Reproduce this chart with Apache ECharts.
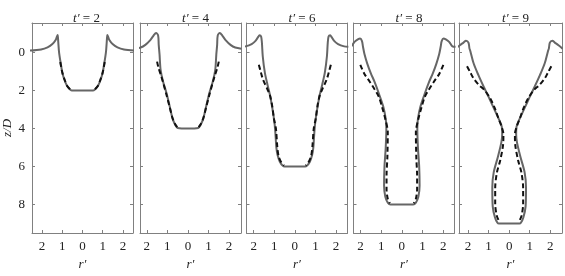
<!DOCTYPE html>
<html>
<head>
<meta charset="utf-8">
<script src="https://cdn.jsdelivr.net/npm/echarts@6/dist/echarts.min.js"></script>
<style>
html, body { margin: 0; background: #fff; }
#chart { width: 565px; height: 276px; }
</style>
</head>
<body>
<div id="chart"></div>
<script>
// dimensionless times of the five snapshots
const times = [2, 4, 6, 8, 9]
const xTicks = [-2, -1, 0, 1, 2]
const yTicks = [0, 2, 4, 6, 8]

// half profiles [r', z/D], outer edge -> axis
const solid1 = [[2.6, -0.1], [2.05, -0.16], [1.73, -0.27], [1.49, -0.44], [1.33, -0.65], [1.26, -0.85], [1.23, -0.92], [1.2, -0.55], [1.16, 0], [1.08, 0.56], [1.0, 1.05], [0.89, 1.45], [0.76, 1.77], [0.6, 1.96], [0.52, 2.0], [0, 2.0]]
const solid2 = [[2.6, -0.2], [2.3, -0.26], [2.07, -0.4], [1.83, -0.65], [1.67, -0.89], [1.55, -1.02], [1.45, -0.9], [1.42, -0.4], [1.38, 0.1], [1.33, 0.9], [1.21, 1.53], [1.03, 2.18], [0.89, 2.82], [0.75, 3.47], [0.62, 3.8], [0.5, 3.97], [0, 4.0]]
const solid3 = [[2.6, -0.3], [2.4, -0.32], [2.1, -0.44], [1.9, -0.62], [1.78, -0.82], [1.72, -0.9], [1.64, -0.84], [1.6, -0.5], [1.56, 0.2], [1.46, 1.05], [1.33, 1.7], [1.19, 2.34], [1.06, 3.15], [0.98, 3.8], [0.93, 4.5], [0.9, 5.0], [0.84, 5.4], [0.73, 5.75], [0.58, 5.97], [0.5, 6.0], [0, 6.0]]
const solid4 = [[2.6, -0.3], [2.45, -0.32], [2.29, -0.56], [2.13, -0.69], [2.02, -0.74], [1.93, -0.6], [1.88, -0.3], [1.81, 0.08], [1.67, 0.6], [1.5, 1.1], [1.32, 1.55], [1.1, 2.2], [0.9, 2.85], [0.78, 3.5], [0.75, 4.0], [0.78, 5.0], [0.84, 6.0], [0.86, 7.0], [0.8, 7.6], [0.68, 7.9], [0.55, 8.0], [0, 8.0]]
const solid5 = [[2.6, -0.2], [2.4, -0.38], [2.22, -0.52], [2.1, -0.62], [1.98, -0.52], [1.93, -0.2], [1.89, -0.08], [1.73, 0.57], [1.49, 1.21], [1.25, 1.78], [1.0, 2.34], [0.76, 2.9], [0.52, 3.47], [0.36, 3.9], [0.34, 4.3], [0.38, 4.73], [0.55, 5.5], [0.75, 6.3], [0.82, 7.1], [0.8, 8.1], [0.69, 8.68], [0.57, 8.96], [0.5, 9.0], [0, 9.0]]

const dashed1 = [[1.1, 0.5], [1.0, 1.05], [0.88, 1.45], [0.75, 1.78], [0.6, 1.96]]
const dashed2 = [[1.5, 0.48], [1.43, 0.81], [1.31, 1.21], [1.2, 1.61], [1.05, 2.2], [0.9, 2.82], [0.75, 3.45], [0.62, 3.78], [0.52, 3.93]]
const dashed3 = [[1.75, 0.65], [1.65, 1.05], [1.54, 1.45], [1.37, 1.85], [1.21, 2.26], [1.1, 2.82], [1.02, 3.47], [0.92, 4.0], [0.85, 5.0], [0.78, 5.5], [0.65, 5.8], [0.52, 5.95]]
const dashed4 = [[2.01, 0.65], [1.81, 1.13], [1.56, 1.53], [1.32, 1.94], [1.11, 2.34], [0.95, 2.9], [0.8, 3.5], [0.68, 4.2], [0.7, 5.5], [0.74, 6.5], [0.74, 7.2], [0.68, 7.7], [0.58, 7.93]]
const dashed5 = [[2.05, 0.73], [1.89, 1.05], [1.73, 1.37], [1.49, 1.69], [1.17, 2.02], [0.92, 2.42], [0.71, 2.9], [0.52, 3.47], [0.38, 3.87], [0.28, 4.3], [0.3, 4.9], [0.44, 5.7], [0.6, 6.34], [0.68, 7.15], [0.68, 7.96], [0.6, 8.6], [0.48, 8.9]]

const solids = [solid1, solid2, solid3, solid4, solid5]
const dasheds = [dashed1, dashed2, dashed3, dashed4, dashed5]

// panel layout
const lefts = [30, 140, 246.5, 353.5, 459]
const widths = [103, 101, 101, 101, 103]
const xMins = [-2.5, -2.33, -2.35, -2.34, -2.44]
const xMaxs = [2.5, 2.58, 2.56, 2.55, 2.57]

const serif = 'Times New Roman, Liberation Serif, serif'
const frame = '#808080'
const ink = '#222'

const chart = echarts.init(document.getElementById('chart'))

const grid = [], xAxis = [], yAxis = [], series = [], title = []

// left half mirrored, then the right half back out
function fullProfile (half) {
  const left = half.map(p => [-p[0], p[1]])
  const right = half.slice().reverse().map(p => [p[0], p[1]])
  return left.concat(right)
}

times.forEach((t, i) => {
  grid.push({ left: lefts[i], top: 23, width: widths[i], height: 228 })
  title.push({
    text: '{i|t′} = ' + t,
    left: lefts[i] + widths[i] / 2,
    top: 7,
    textAlign: 'center',
    textStyle: {
      fontFamily: serif, fontSize: 13, fontWeight: 'normal', color: ink,
      rich: { i: { fontFamily: serif, fontSize: 13, fontStyle: 'italic', color: ink } }
    }
  })
  const xBase = {
    type: 'value', gridIndex: i, min: xMins[i], max: xMaxs[i],
    splitLine: { show: false },
    axisLine: { show: true, onZero: false, lineStyle: { color: frame, width: 1 } },
    axisTick: { show: true, inside: true, length: 3, customValues: xTicks, lineStyle: { color: frame } }
  }
  xAxis.push(Object.assign({}, xBase, {
    position: 'bottom',
    name: 'r′', nameLocation: 'middle', nameGap: 25,
    nameTextStyle: { fontFamily: serif, fontSize: 13, fontStyle: 'italic', color: ink },
    axisLabel: {
      show: true, customValues: xTicks, margin: 7,
      fontFamily: serif, fontSize: 13, color: ink,
      formatter: v => String(Math.abs(v))
    }
  }))
  xAxis.push(Object.assign({}, xBase, { position: 'top', axisLabel: { show: false } }))

  const yBase = {
    type: 'value', gridIndex: i, min: -1.55, max: 9.5, inverse: true,
    splitLine: { show: false },
    axisLine: { show: true, onZero: false, lineStyle: { color: frame, width: 1 } },
    axisTick: { show: true, inside: true, length: 3, customValues: yTicks, lineStyle: { color: frame } }
  }
  yAxis.push(Object.assign({}, yBase, {
    position: 'left',
    name: i === 0 ? 'z/D' : '', nameLocation: 'middle', nameGap: 18,
    nameTextStyle: { fontFamily: serif, fontSize: 13, fontStyle: 'italic', color: ink },
    axisLabel: {
      show: i === 0, customValues: yTicks, margin: 7,
      fontFamily: serif, fontSize: 13, color: ink
    }
  }))
  yAxis.push(Object.assign({}, yBase, { position: 'right', axisLabel: { show: false } }))

  series.push({
    type: 'line', xAxisIndex: 2 * i, yAxisIndex: 2 * i,
    data: fullProfile(solids[i]),
    showSymbol: false, smooth: 0.3, clip: true,
    lineStyle: { color: '#666', width: 2 }
  })
  series.push({
    type: 'line', xAxisIndex: 2 * i, yAxisIndex: 2 * i,
    data: dasheds[i].map(p => [-p[0], p[1]]),
    showSymbol: false, smooth: 0.3, clip: true,
    lineStyle: { color: '#111', width: 2, type: [5, 3] }
  })
  series.push({
    type: 'line', xAxisIndex: 2 * i, yAxisIndex: 2 * i,
    data: dasheds[i].map(p => [p[0], p[1]]),
    showSymbol: false, smooth: 0.3, clip: true,
    lineStyle: { color: '#111', width: 2, type: [5, 3] }
  })
})

chart.setOption({
  animation: false,
  title: title,
  grid: grid,
  xAxis: xAxis,
  yAxis: yAxis,
  series: series
})
</script>
</body>
</html>
